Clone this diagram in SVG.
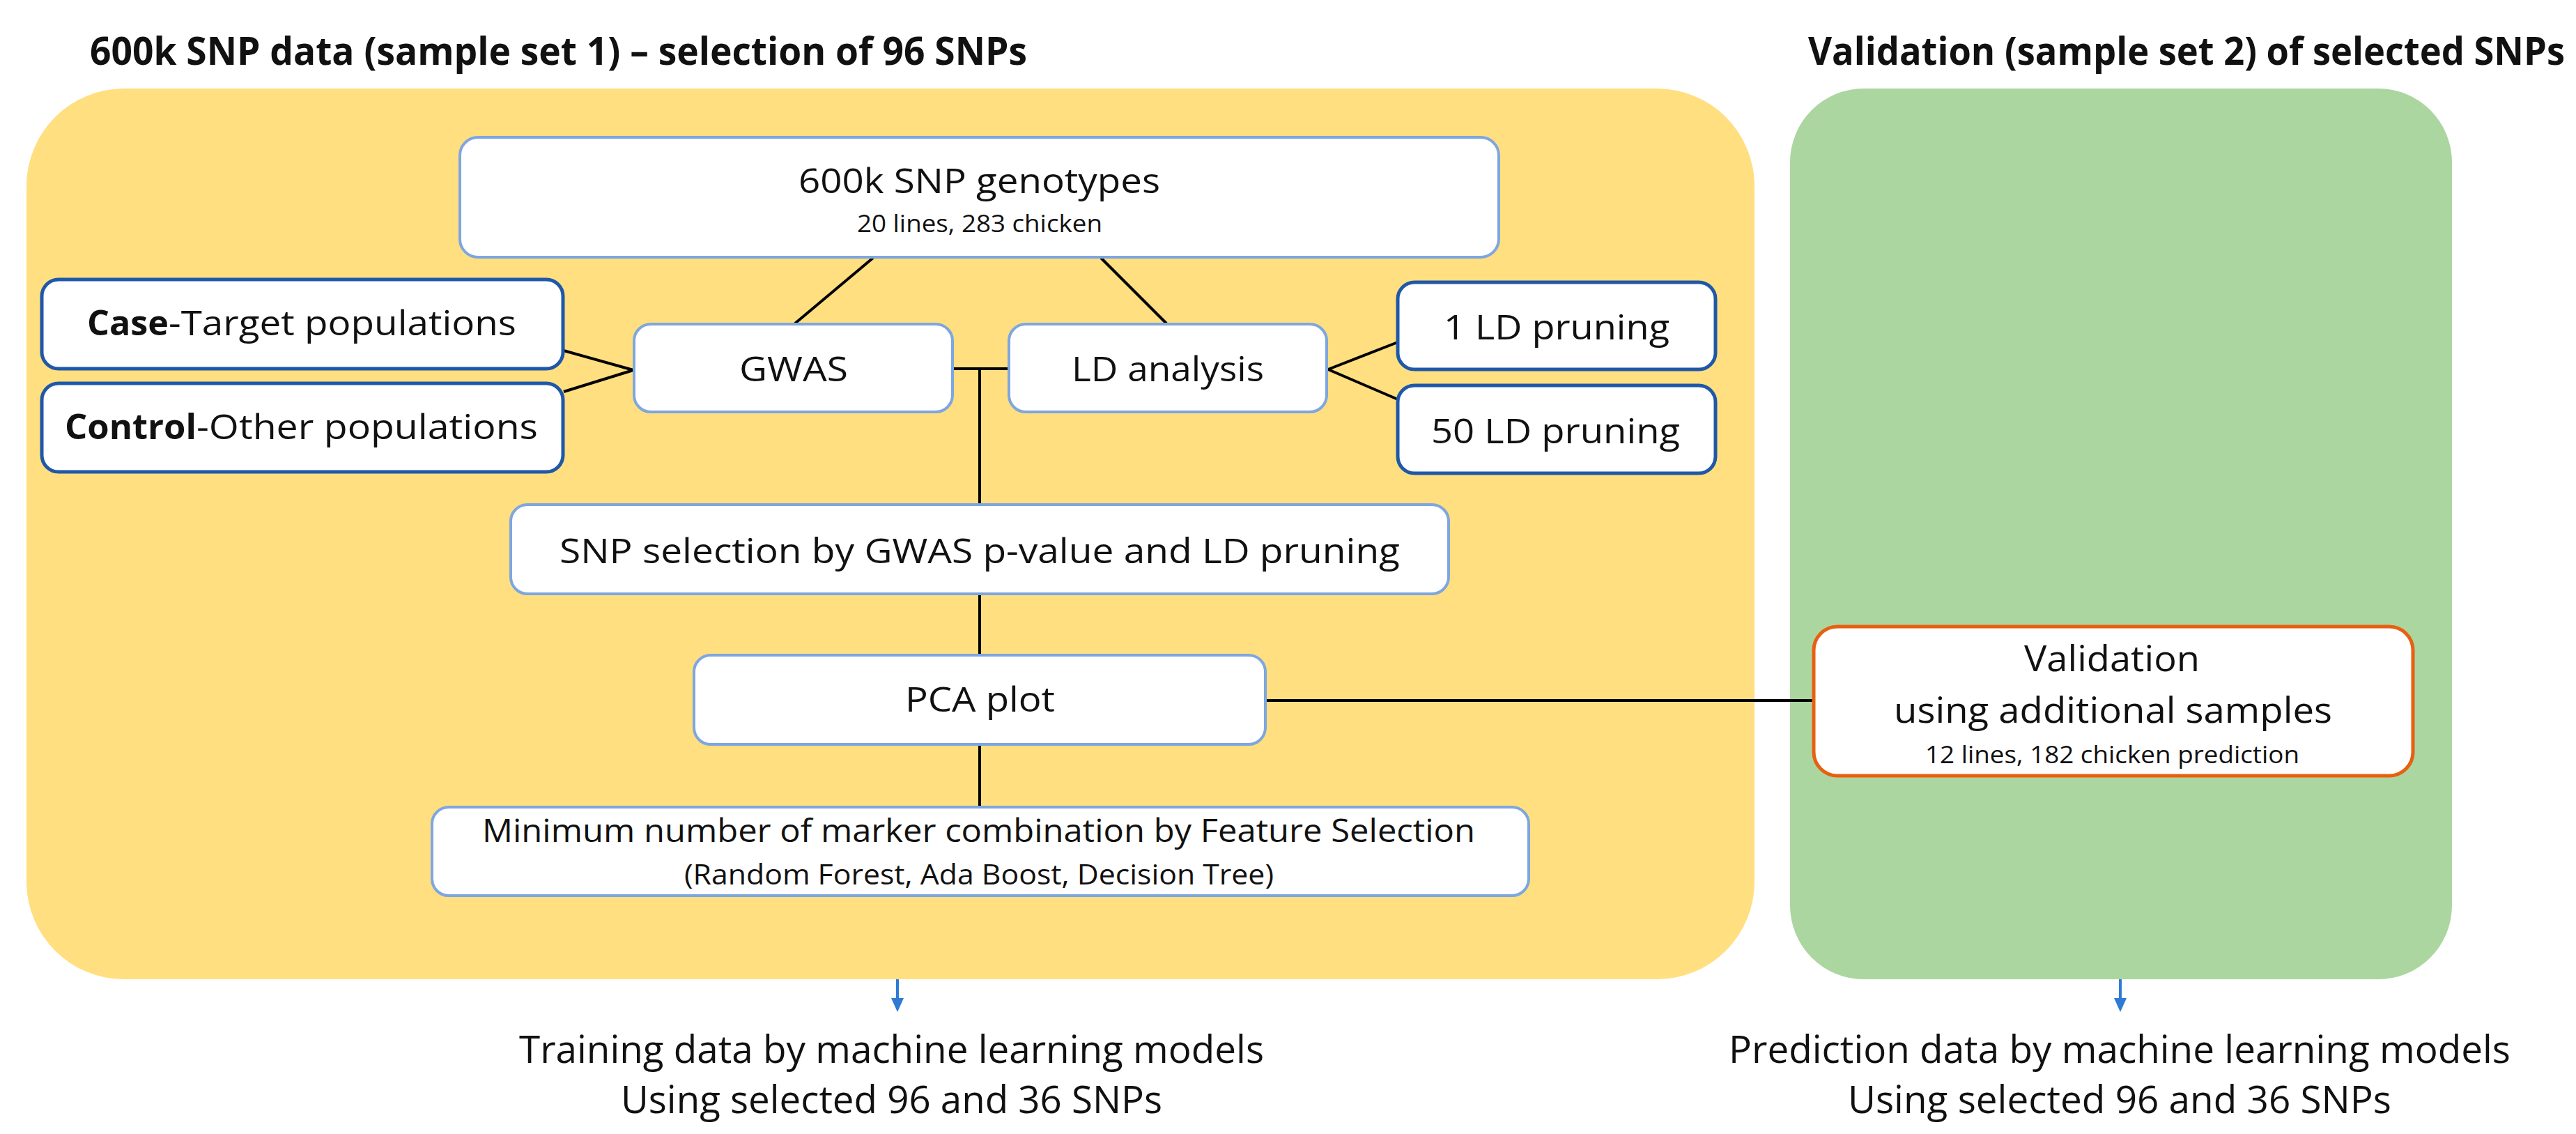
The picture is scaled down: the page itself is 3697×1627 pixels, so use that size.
<svg xmlns="http://www.w3.org/2000/svg" width="3697" height="1627" viewBox="0 0 3697 1627">
<style>
text{font-family:"Open Sans","Noto Sans","DejaVu Sans",sans-serif;fill:#111;}
.t{font-weight:bold;font-size:56px;}
.b{font-weight:bold;}
.f50{font-size:50px;}
.f52{font-size:52px;}
.f46{font-size:46px;}
.f40{font-size:40px;}
.f35{font-size:35px;}
.f54{font-size:54px;}
.lb{fill:#fff;stroke:#7ea6e0;stroke-width:4;}
.db{fill:#fff;stroke:#1f58a8;stroke-width:5;}
.ob{fill:#fff;stroke:#e8600f;stroke-width:5;}
.c{stroke:#000;stroke-width:4;fill:none;}
.a{stroke:#2e7bd6;stroke-width:4;fill:none;}
</style>
<defs>
<marker id="ah" viewBox="0 0 10 10" refX="5" refY="10" markerWidth="5" markerHeight="5" orient="auto-start-reverse" markerUnits="strokeWidth">
<path d="M0,0 L10,0 L5,10 Z" fill="#2e7bd6" transform="rotate(-90 5 5)"/>
</marker>
</defs>
<rect width="3697" height="1627" fill="#fff"/>
<g id="panel-training">
<rect x="38" y="127" width="2480" height="1278" rx="140" ry="140" fill="#ffdf7f"/>
<text class="t" x="129" y="93" textLength="1345" lengthAdjust="spacingAndGlyphs">600k SNP data (sample set 1) – selection of 96 SNPs</text>
</g>
<g id="panel-validation">
<rect x="2569" y="127" width="950" height="1278" rx="106" ry="106" fill="#abd6a0"/>
<text class="t" x="2595" y="93" textLength="1086" lengthAdjust="spacingAndGlyphs">Validation (sample set 2) of selected SNPs</text>
</g>
<g id="connectors">
<line class="c" x1="1253" y1="370" x2="1141" y2="464"/>
<line class="c" x1="1580" y1="370" x2="1674" y2="464"/>
<line class="c" x1="809" y1="503" x2="909" y2="531"/>
<line class="c" x1="809" y1="562" x2="909" y2="531"/>
<line class="c" x1="1367" y1="529" x2="1448" y2="529"/>
<line class="c" x1="1406" y1="529" x2="1406" y2="724"/>
<line class="c" x1="1406" y1="852" x2="1406" y2="940"/>
<line class="c" x1="1406" y1="1068" x2="1406" y2="1158"/>
<line class="c" x1="1906" y1="530" x2="2006" y2="491"/>
<line class="c" x1="1906" y1="530" x2="2006" y2="573"/>
<line class="c" x1="1816" y1="1005" x2="2603" y2="1005"/>
<path d="M1288,1405 L1288,1436" class="a"/>
<path d="M1279,1432 L1297,1432 L1288,1452 Z" fill="#2e7bd6"/>
<path d="M3043,1405 L3043,1436" class="a"/>
<path d="M3034,1432 L3052,1432 L3043,1452 Z" fill="#2e7bd6"/>
</g>
<g id="node-genotypes">
<rect class="lb" x="660" y="197" width="1491" height="172" rx="26"/>
<text class="f50" x="1146" y="277" textLength="519" lengthAdjust="spacingAndGlyphs">600k SNP genotypes</text>
<text class="f35" x="1230" y="333" textLength="352" lengthAdjust="spacingAndGlyphs">20 lines, 283 chicken</text>
</g>
<g id="node-case">
<rect class="db" x="60" y="401" width="748" height="128" rx="24"/>
<text class="f50 b" x="125" y="481" textLength="117" lengthAdjust="spacingAndGlyphs">Case</text>
<text class="f50" x="242" y="481" textLength="499" lengthAdjust="spacingAndGlyphs">-Target populations</text>
</g>
<g id="node-control">
<rect class="db" x="60" y="550" width="748" height="127" rx="24"/>
<text class="f50 b" x="93" y="630" textLength="189" lengthAdjust="spacingAndGlyphs">Control</text>
<text class="f50" x="282" y="630" textLength="490" lengthAdjust="spacingAndGlyphs">-Other populations</text>
</g>
<g id="node-gwas">
<rect class="lb" x="910" y="465" width="457" height="126" rx="24"/>
<text class="f50" x="1061" y="547" textLength="156" lengthAdjust="spacingAndGlyphs">GWAS</text>
</g>
<g id="node-ld">
<rect class="lb" x="1448" y="465" width="456" height="126" rx="24"/>
<text class="f50" x="1538" y="547" textLength="276" lengthAdjust="spacingAndGlyphs">LD analysis</text>
</g>
<g id="node-ld1">
<rect class="db" x="2006" y="405" width="456" height="125" rx="24"/>
<text class="f50" x="2072" y="487" textLength="324" lengthAdjust="spacingAndGlyphs">1 LD pruning</text>
</g>
<g id="node-ld50">
<rect class="db" x="2006" y="553" width="456" height="126" rx="24"/>
<text class="f50" x="2054" y="636" textLength="357" lengthAdjust="spacingAndGlyphs">50 LD pruning</text>
</g>
<g id="node-snpsel">
<rect class="lb" x="733" y="724" width="1346" height="128" rx="24"/>
<text class="f50" x="803" y="808" textLength="1206" lengthAdjust="spacingAndGlyphs">SNP selection by GWAS p-value and LD pruning</text>
</g>
<g id="node-pca">
<rect class="lb" x="996" y="940" width="820" height="128" rx="24"/>
<text class="f50" x="1299" y="1021" textLength="215" lengthAdjust="spacingAndGlyphs">PCA plot</text>
</g>
<g id="node-minimum">
<rect class="lb" x="620" y="1158" width="1574" height="127" rx="24"/>
<text class="f46" x="692" y="1208" textLength="1425" lengthAdjust="spacingAndGlyphs">Minimum number of marker combination by Feature Selection</text>
<text class="f40" x="982" y="1269" textLength="846" lengthAdjust="spacingAndGlyphs">(Random Forest, Ada Boost, Decision Tree)</text>
</g>
<g id="node-validation">
<rect class="ob" x="2603" y="899" width="860" height="214" rx="34"/>
<text class="f52" x="2905" y="963" textLength="252" lengthAdjust="spacingAndGlyphs">Validation</text>
<text class="f52" x="2718" y="1037" textLength="629" lengthAdjust="spacingAndGlyphs">using additional samples</text>
<text class="f35" x="2763" y="1095" textLength="537" lengthAdjust="spacingAndGlyphs">12 lines, 182 chicken prediction</text>
</g>
<g id="node-training-output">
<text class="f54" x="745" y="1525" textLength="1069" lengthAdjust="spacingAndGlyphs">Training data by machine learning models</text>
<text class="f54" x="891" y="1597" textLength="777" lengthAdjust="spacingAndGlyphs">Using selected 96 and 36 SNPs</text>
</g>
<g id="node-prediction-output">
<text class="f54" x="2481" y="1525" textLength="1122" lengthAdjust="spacingAndGlyphs">Prediction data by machine learning models</text>
<text class="f54" x="2652" y="1597" textLength="780" lengthAdjust="spacingAndGlyphs">Using selected 96 and 36 SNPs</text>
</g>
</svg>
